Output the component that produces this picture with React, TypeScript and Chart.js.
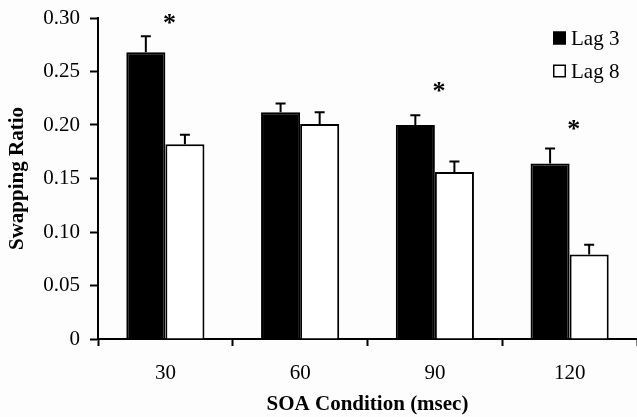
import React, { useEffect, useRef } from "react";
import { Chart, registerables } from "chart.js";

Chart.register(...registerables);

const categories = ["30", "60", "90", "120"];
const seriesLabels = ["Lag 3", "Lag 8"];
const lag3 = [0.268, 0.212, 0.2, 0.164];
const lag8 = [0.182, 0.201, 0.156, 0.079];
const lag3Err = [0.015, 0.008, 0.009, 0.014];
const lag8Err = [0.009, 0.011, 0.01, 0.009];
const sigMarkY = [0.299, null, 0.235, 0.2];
const yTickValues = [0, 0.05, 0.1, 0.15, 0.2, 0.25, 0.3];

const FONT = "'Liberation Serif', 'Times New Roman', serif";
const FS = 21;

const bgPlugin = {
  id: "bg",
  beforeDraw(chart: any) {
    const ctx = chart.ctx;
    ctx.save();
    ctx.fillStyle = "#fdfdfd";
    ctx.fillRect(0, 0, chart.width, chart.height);
    ctx.restore();
  },
};

const errPlugin = {
  id: "errbars",
  afterDatasetsDraw(chart: any) {
    const ctx = chart.ctx;
    const yScale = chart.scales.y;
    const xScale = chart.scales.x;
    const errs = [lag3Err, lag8Err];
    ctx.save();
    ctx.strokeStyle = "#000";
    ctx.lineWidth = 2;
    chart.data.datasets.forEach((ds: any, di: number) => {
      const meta = chart.getDatasetMeta(di);
      meta.data.forEach((bar: any, i: number) => {
        const v = ds.data[i];
        const top = yScale.getPixelForValue(v + errs[di][i]);
        const base = yScale.getPixelForValue(v);
        ctx.beginPath();
        ctx.moveTo(bar.x, base);
        ctx.lineTo(bar.x, top);
        ctx.moveTo(bar.x - 5, top);
        ctx.lineTo(bar.x + 5, top);
        ctx.stroke();
      });
    });
    // significance asterisks
    ctx.fillStyle = "#000";
    ctx.font = `bold 26px ${FONT}`;
    ctx.textAlign = "center";
    ctx.textBaseline = "middle";
    sigMarkY.forEach((y, i) => {
      if (y == null) return;
      const x = xScale.getPixelForValue(i) + 4;
      ctx.fillText("*", x, yScale.getPixelForValue(y) + 5);
    });
    // legend
    const lx = 553;
    const rows = [38, 71];
    ctx.font = `${FS}px ${FONT}`;
    ctx.textAlign = "left";
    ctx.textBaseline = "middle";
    chart.data.datasets.forEach((ds: any, di: number) => {
      const cy = rows[di];
      ctx.fillStyle = ds.backgroundColor;
      ctx.fillRect(lx, cy - 6.5, 13, 13);
      ctx.lineWidth = 1.5;
      ctx.strokeStyle = "#000";
      ctx.strokeRect(lx + 0.75, cy - 5.75, 11.5, 11.5);
      ctx.fillStyle = "#000";
      ctx.fillText(ds.label, lx + 18, cy + 1);
    });
    ctx.restore();
  },
};

export default function App() {
  const ref = useRef<HTMLCanvasElement>(null);
  useEffect(() => {
    document.body.style.margin = "0";
    const chart = new Chart(ref.current!, {
      type: "bar",
      data: {
        labels: categories,
        datasets: [
          {
            label: seriesLabels[0],
            data: lag3,
            backgroundColor: "#000",
            borderColor: "#000",
            borderWidth: 2,
            categoryPercentage: 0.58,
            barPercentage: 1.0,
          },
          {
            label: seriesLabels[1],
            data: lag8,
            backgroundColor: "#fff",
            borderColor: "#000",
            borderWidth: 2,
            categoryPercentage: 0.58,
            barPercentage: 1.0,
          },
        ],
      },
      options: {
        animation: false,
        responsive: false,
        layout: { padding: { top: 18, right: 0, left: 0, bottom: 0 } },
        plugins: {
          legend: { display: false },
          tooltip: { enabled: false },
        },
        scales: {
          x: {
            grid: {
              offset: true,
              drawOnChartArea: false,
              drawTicks: true,
              tickLength: 7,
              tickWidth: 2,
              tickColor: "#000",
            },
            border: { display: true, color: "#000", width: 2 },
            ticks: {
              color: "#000",
              font: { family: FONT, size: FS },
              padding: 15,
              maxRotation: 0,
            },
            title: {
              display: true,
              text: "SOA Condition (msec)",
              color: "#000",
              font: { family: FONT, size: FS, weight: "bold" },
              padding: { top: 0, bottom: 0 },
            },
            afterFit(scale: any) {
              scale.height = 78;
              scale.paddingLeft = 0;
              scale.paddingRight = 0;
            },
          },
          y: {
            min: 0,
            max: 0.3,
            grid: {
              drawOnChartArea: false,
              drawTicks: true,
              tickLength: 8,
              tickWidth: 2,
              tickColor: "#000",
            },
            border: { display: true, color: "#000", width: 2 },
            afterBuildTicks(scale: any) {
              scale.ticks = yTickValues.map((v) => ({ value: v }));
            },
            ticks: {
              color: "#000",
              font: { family: FONT, size: FS },
              padding: 10,
              callback: (v: any) => (Number(v) === 0 ? "0" : Number(v).toFixed(2)),
            },
            title: {
              display: true,
              text: "Swapping Ratio",
              color: "#000",
              font: { family: FONT, size: FS, weight: "bold" },
              padding: { top: 5, bottom: 0 },
            },
            afterFit(scale: any) {
              scale.width = 98;
              scale.paddingTop = 0;
              scale.paddingBottom = 0;
            },
          },
        },
      },
      plugins: [bgPlugin, errPlugin],
    });
    return () => chart.destroy();
  }, []);
  return <canvas ref={ref} width={637} height={417} style={{ display: "block" }} />;
}
